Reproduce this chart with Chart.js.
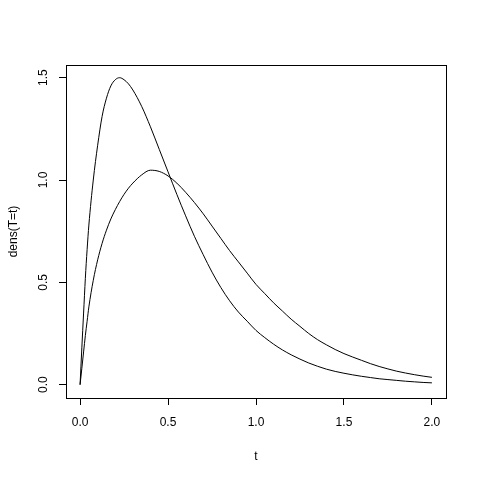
<!DOCTYPE html>
<html>
<head>
<meta charset="utf-8">
<script src="https://cdn.jsdelivr.net/npm/chart.js@4"></script>
<style>
  html, body { margin: 0; padding: 0; background: #ffffff; }
  canvas { display: block; }
</style>
</head>
<body>
<canvas id="c" width="480" height="480"></canvas>
<script>
// time points t
const tValues = [0, 0.01, 0.02, 0.03, 0.04, 0.05, 0.075, 0.1, 0.125, 0.15, 0.175, 0.2, 0.225, 0.25, 0.275, 0.3,
  0.35, 0.4, 0.45, 0.5, 0.55, 0.6, 0.65, 0.7, 0.75, 0.8, 0.85, 0.9, 0.95, 1.0,
  1.05, 1.1, 1.15, 1.2, 1.25, 1.3, 1.35, 1.4, 1.45, 1.5, 1.55, 1.6, 1.65, 1.7, 1.75, 1.8, 1.85, 1.9, 1.95, 2.0];

// taller, earlier-peaking density
const densA = [0, 0.18, 0.35, 0.52, 0.66, 0.78, 1.00, 1.17, 1.31, 1.40, 1.46, 1.49, 1.50, 1.49, 1.47, 1.44,
  1.36, 1.26, 1.15, 1.04, 0.93, 0.825, 0.725, 0.635, 0.55, 0.475, 0.41, 0.355, 0.31, 0.265,
  0.23, 0.198, 0.17, 0.146, 0.125, 0.106, 0.09, 0.076, 0.065, 0.056, 0.048, 0.041, 0.035, 0.029, 0.025, 0.021, 0.017, 0.014, 0.011, 0.009];

// flatter, later-peaking density
const densB = [0, 0.08, 0.16, 0.24, 0.31, 0.38, 0.51, 0.61, 0.69, 0.755, 0.81, 0.855, 0.895, 0.93, 0.96, 0.985,
  1.025, 1.048, 1.042, 1.02, 0.985, 0.94, 0.89, 0.835, 0.775, 0.715, 0.655, 0.60, 0.545, 0.49,
  0.445, 0.40, 0.36, 0.32, 0.285, 0.25, 0.22, 0.195, 0.172, 0.152, 0.135, 0.119, 0.103, 0.089, 0.077, 0.066, 0.057, 0.049, 0.042, 0.036];

const xTickValues = [0, 0.5, 1.0, 1.5, 2.0];
const yTickValues = [0, 0.5, 1.0, 1.5];
const xTitle = 't';
const yTitle = 'dens(T=t)';

const FONT = "'Liberation Sans', Arial, Helvetica, sans-serif";

const boxPlugin = {
  id: 'box',
  afterDraw(chart) {
    const a = chart.chartArea;
    const ctx = chart.ctx;
    ctx.save();
    ctx.strokeStyle = '#000';
    ctx.lineWidth = 1;
    ctx.strokeRect(a.left + 0.5, a.top + 0.5, a.right - a.left, a.bottom - a.top);
    ctx.restore();
  }
};

function toXY(ys) { return tValues.map((t, i) => ({ x: t, y: ys[i] })); }

new Chart(document.getElementById('c'), {
  type: 'line',
  data: {
    datasets: [
      { data: toXY(densA), borderColor: '#000', borderWidth: 1, pointRadius: 0, fill: false, cubicInterpolationMode: 'monotone' },
      { data: toXY(densB), borderColor: '#000', borderWidth: 1, pointRadius: 0, fill: false, cubicInterpolationMode: 'monotone' }
    ]
  },
  options: {
    responsive: false,
    animation: false,
    devicePixelRatio: 1,
    layout: { padding: { top: 65, right: 34, bottom: 0, left: 0 } },
    plugins: { legend: { display: false }, tooltip: { enabled: false } },
    scales: {
      x: {
        type: 'linear',
        min: -0.08, max: 2.08,
        afterFit(s) { s.height = 82; },
        afterBuildTicks(s) { s.ticks = xTickValues.map(v => ({ value: v })); },
        grid: { drawOnChartArea: false, drawTicks: true, tickLength: 7, color: '#000', lineWidth: 1 },
        border: { display: false },
        ticks: { color: '#000', font: { family: FONT, size: 12 }, padding: 10, maxRotation: 0, autoSkip: false,
          callback: v => Number(v).toFixed(1) },
        title: { display: true, text: xTitle, color: '#000', font: { family: FONT, size: 12 }, padding: { top: 0, bottom: 16 } }
      },
      y: {
        type: 'linear',
        min: -0.065, max: 1.562,
        afterFit(s) { s.width = 66; },
        afterBuildTicks(s) { s.ticks = yTickValues.map(v => ({ value: v })); },
        grid: { drawOnChartArea: false, drawTicks: true, tickLength: 7, color: '#000', lineWidth: 1 },
        border: { display: false },
        ticks: { color: '#000', font: { family: FONT, size: 12 }, padding: 6.5, minRotation: 90, maxRotation: 90,
          crossAlign: 'center', autoSkip: false, callback: v => Number(v).toFixed(1) },
        title: { display: true, text: yTitle, color: '#000', font: { family: FONT, size: 12 }, padding: { top: 6, bottom: 0 } }
      }
    }
  },
  plugins: [boxPlugin]
});
</script>
</body>
</html>
